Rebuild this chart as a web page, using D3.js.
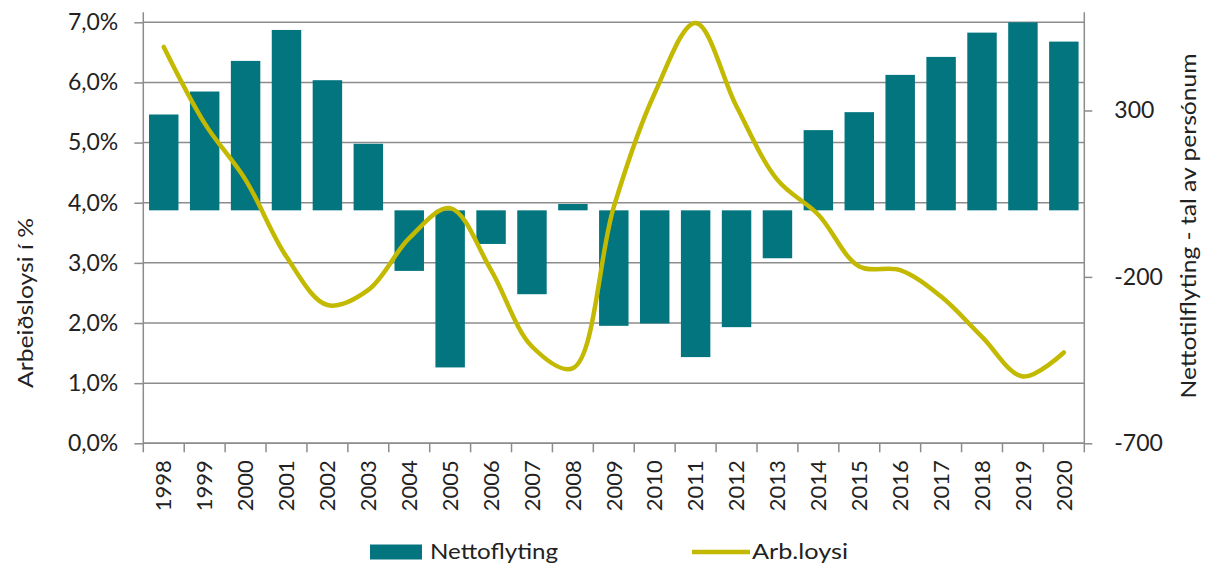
<!DOCTYPE html>
<html>
<head>
<meta charset="utf-8">
<script src="https://cdn.jsdelivr.net/npm/d3@7"></script>
<style>
  body { margin: 0; background: #fff; }
  text { font-family: Lato, "Open Sans", sans-serif; fill: #222; }
</style>
</head>
<body>
<svg id="chart"></svg>
<script>
const years = ["1998","1999","2000","2001","2002","2003","2004","2005","2006","2007","2008",
  "2009","2010","2011","2012","2013","2014","2015","2016","2017","2018","2019","2020"];

// net migration (persons), right axis
const nettoflyting = [288, 357, 449, 542, 391, 200, -182, -472, -101, -252, 19,
  -347, -340, -441, -351, -144, 241, 295, 407, 461, 534, 565, 507];

// unemployment (%), left axis
const arbLoysi = [6.59, 5.32, 4.38, 3.10, 2.30, 2.55, 3.41, 3.91, 2.88, 1.61, 1.25,
  3.93, 5.82, 6.99, 5.60, 4.38, 3.80, 2.94, 2.88, 2.44, 1.77, 1.11, 1.51];

const leftTicks = [0, 1, 2, 3, 4, 5, 6, 7];
const rightTicks = [-700, -200, 300];

const width = 1205, height = 567;
const margin = { top: 22.3, right: 120.7, bottom: 123.7, left: 143.3 };
const innerW = width - margin.left - margin.right;
const innerH = height - margin.top - margin.bottom;

const barColor = "#02757f";
const lineColor = "#c2b900";
const gridColor = "#8c8c8c";

const svg = d3.select("#chart").attr("width", width).attr("height", height);
const g = svg.append("g").attr("transform", `translate(${margin.left},${margin.top})`);

const x = d3.scaleBand().domain(years).range([0, innerW]).paddingInner(0.28).paddingOuter(0.14);
const yL = d3.scaleLinear().domain([0, 7]).range([innerH, 0]);
const yR = d3.scaleLinear().domain([-700, 565]).range([innerH, 0]);

// gridlines
g.append("g")
  .selectAll("line")
  .data(leftTicks)
  .enter().append("line")
  .attr("x1", 0).attr("x2", innerW)
  .attr("y1", d => yL(d)).attr("y2", d => yL(d))
  .attr("stroke", gridColor).attr("stroke-width", 1.5);

// bars
g.append("g")
  .selectAll("rect")
  .data(nettoflyting)
  .enter().append("rect")
  .attr("x", (d, i) => x(years[i]))
  .attr("width", x.bandwidth())
  .attr("y", d => yR(Math.max(0, d)))
  .attr("height", d => Math.abs(yR(d) - yR(0)))
  .attr("fill", barColor);

// unemployment line
const line = d3.line()
  .x((d, i) => x(years[i]) + x.bandwidth() / 2)
  .y(d => yL(d))
  .curve(d3.curveCatmullRom.alpha(0.5));

g.append("path")
  .datum(arbLoysi)
  .attr("d", line)
  .attr("fill", "none")
  .attr("stroke", lineColor)
  .attr("stroke-width", 4.5)
  .attr("stroke-linecap", "round");

// left axis
const axisL = g.append("g")
  .call(d3.axisLeft(yL).tickValues(leftTicks).tickSize(9).tickPadding(16)
    .tickFormat(d => d3.format(".1f")(d).replace(".", ",") + "%"));
axisL.selectAll("text").attr("font-size", 23).attr("fill", "#222");

// right axis (plain hyphen for negatives, as in the original)
const axisR = g.append("g")
  .attr("transform", `translate(${innerW},0)`)
  .call(d3.axisRight(yR).tickValues(rightTicks).tickSize(8).tickPadding(22)
    .tickFormat(d => String(d)));
axisR.selectAll("text").attr("font-size", 23).attr("fill", "#222");

// bottom axis with ticks at category boundaries
const axisB = g.append("g")
  .attr("transform", `translate(0,${innerH})`)
  .call(d3.axisBottom(x).tickSize(0).tickPadding(0));
axisB.selectAll("text")
  .attr("transform", "rotate(-90)")
  .attr("text-anchor", "end")
  .attr("x", -17)
  .attr("y", 0)
  .attr("dy", "0.35em")
  .attr("font-size", 22)
  .attr("fill", "#222");
axisB.selectAll(".boundary")
  .data(d3.range(years.length + 1))
  .enter().append("line")
  .attr("class", "boundary")
  .attr("x1", i => i * innerW / years.length)
  .attr("x2", i => i * innerW / years.length)
  .attr("y1", 0).attr("y2", 9)
  .attr("stroke", gridColor).attr("stroke-width", 1.5);

[axisL, axisR, axisB].forEach(a => {
  a.select(".domain").attr("stroke", gridColor).attr("stroke-width", 1.5);
  a.selectAll(".tick line").attr("stroke", gridColor).attr("stroke-width", 1.5);
});
axisB.select(".domain").attr("d", `M0,0H${innerW}`);
axisL.select(".domain").attr("d", `M0,${innerH}V-10`);
axisR.select(".domain").attr("d", `M0,${innerH}V-10`);

// axis titles
svg.append("text")
  .attr("transform", `translate(33,303) rotate(-90)`)
  .attr("text-anchor", "middle")
  .attr("font-size", 22)
  .attr("textLength", 170)
  .attr("lengthAdjust", "spacingAndGlyphs")
  .text("Arbeiðsloysi í %");

svg.append("text")
  .attr("transform", `translate(1196,226) rotate(-90)`)
  .attr("text-anchor", "middle")
  .attr("font-size", 22)
  .attr("textLength", 345)
  .attr("lengthAdjust", "spacingAndGlyphs")
  .text("Nettotilflyting - tal av persónum");

// legend
const legend = svg.append("g").attr("transform", "translate(0,552)");
legend.append("rect")
  .attr("x", 370).attr("y", -7.5).attr("width", 52).attr("height", 15)
  .attr("fill", barColor);
legend.append("text")
  .attr("x", 430).attr("y", 0).attr("dy", "0.35em")
  .attr("font-size", 21)
  .attr("textLength", 128)
  .attr("lengthAdjust", "spacingAndGlyphs")
  .text("Nettoflyting");
legend.append("line")
  .attr("x1", 692).attr("x2", 750).attr("y1", 0).attr("y2", 0)
  .attr("stroke", lineColor).attr("stroke-width", 4.5);
legend.append("text")
  .attr("x", 752).attr("y", 0).attr("dy", "0.35em")
  .attr("font-size", 21)
  .attr("textLength", 96)
  .attr("lengthAdjust", "spacingAndGlyphs")
  .text("Arb.loysi");
</script>
</body>
</html>
